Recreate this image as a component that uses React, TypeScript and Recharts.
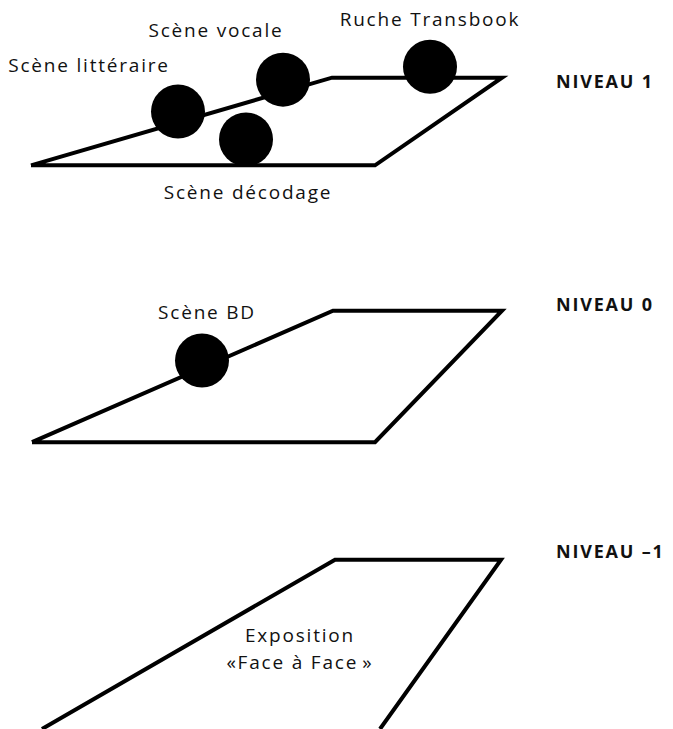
import React from 'react';
import { ScatterChart, Scatter, XAxis, YAxis } from 'recharts';

// Floor outlines (plan coordinates: x to the right, y downward)
const level1Outline = [
  { x: 31, y: 166 },
  { x: 332, y: 78 },
  { x: 502, y: 78 },
  { x: 375, y: 166 },
  { x: 31, y: 166 },
];
const level0Outline = [
  { x: 32, y: 444 },
  { x: 333, y: 312 },
  { x: 502, y: 312 },
  { x: 375, y: 444 },
  { x: 32, y: 444 },
];
const levelMinus1Outline = [
  { x: 42, y: 732 },
  { x: 335, y: 562 },
  { x: 501, y: 562 },
  { x: 380, y: 732 },
];

// Stands (dots)
const standNames = ['Scène littéraire', 'Scène vocale', 'Ruche Transbook', 'Scène décodage', 'Scène BD'];
const standX = [178, 283, 430, 246, 202];
const standY = [112, 80, 67, 140, 362];

// Text labels
const labelTexts = ['Scène littéraire', 'Scène vocale', 'Ruche Transbook', 'Scène décodage', 'Scène BD', 'Exposition', '«Face à Face\u202F»'];
const labelX = [89, 216, 430, 248, 207, 300, 300];
const labelY = [65, 30, 19, 193, 313, 638, 665];

// Level names
const levelNames = ['NIVEAU 1', 'NIVEAU 0', 'NIVEAU -1'];
const levelNameX = [556, 556, 556];
const levelNameY = [81, 305, 553];

const stands = standNames.map((name, i) => ({ name, x: standX[i], y: standY[i] }));
const labels = labelTexts.map((text, i) => ({ text, x: labelX[i], y: labelY[i] }));
const levels = levelNames.map((text, i) => ({ text, x: levelNameX[i], y: levelNameY[i] }));

const FONT = '"Open Sans", sans-serif';

const NoShape = () => <g />;

const Dot = (props: any) => <circle cx={props.cx} cy={props.cy} r={27} fill="#000" />;

const LabelShape = (props: any) => (
  <text
    x={props.cx}
    y={props.cy}
    textAnchor="middle"
    dominantBaseline="central"
    fontFamily={FONT}
    fontSize={19}
    letterSpacing={1.8}
    fill="#111"
  >
    {props.payload.text}
  </text>
);

const LevelShape = (props: any) => (
  <text
    x={props.cx}
    y={props.cy}
    textAnchor="start"
    dominantBaseline="central"
    fontFamily={FONT}
    fontSize={18}
    fontWeight={700}
    letterSpacing={1.8}
    fill="#111"
  >
    {props.payload.text.replace('-', '\u2013')}
  </text>
);

const lineStyle = { stroke: '#000', strokeWidth: 4, strokeLinejoin: 'miter' as const, fill: 'none' };

export default function App() {
  return (
    <div style={{ position: 'absolute', left: 0, top: 0, background: '#fff' }}>
      <ScatterChart width={673} height={729} margin={{ top: 0, right: 0, bottom: 0, left: 0 }}>
        <XAxis type="number" dataKey="x" domain={[0, 673]} hide />
        <YAxis type="number" dataKey="y" domain={[0, 729]} reversed hide />
        <Scatter data={level1Outline} line={lineStyle} shape={NoShape} isAnimationActive={false} />
        <Scatter data={level0Outline} line={lineStyle} shape={NoShape} isAnimationActive={false} />
        <Scatter data={levelMinus1Outline} line={lineStyle} shape={NoShape} isAnimationActive={false} />
        <Scatter data={stands} shape={Dot} isAnimationActive={false} />
        <Scatter data={labels} shape={LabelShape} isAnimationActive={false} />
        <Scatter data={levels} shape={LevelShape} isAnimationActive={false} />
      </ScatterChart>
    </div>
  );
}
